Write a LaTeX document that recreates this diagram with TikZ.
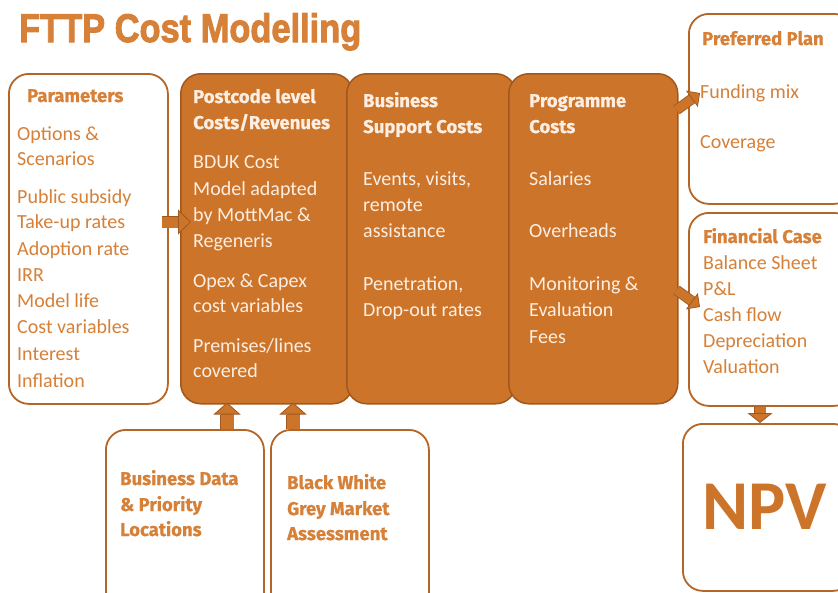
\documentclass[tikz,border=0pt]{standalone}
\usepackage{fontspec}
\setmainfont{Carlito}
\newfontfamily\hfont{Fira Sans}[BoldFeatures={FakeBold=0.6}]
\newfontfamily\tfont{Liberation Sans}[BoldFeatures={FakeBold=2.5}]
\usetikzlibrary{arrows.meta,calc}
\definecolor{org}{RGB}{204,116,41}
\definecolor{orgd}{RGB}{160,88,30}
\definecolor{txo}{RGB}{214,128,56}
\definecolor{cream}{RGB}{252,238,226}
\definecolor{bord}{RGB}{181,101,38}
\tikzset{
  wbox/.style={draw=bord, line width=1.8pt, fill=white, rounded corners=20pt, inner sep=0pt, anchor=north west},
  obox/.style={draw=orgd, line width=1.5pt, fill=org, rounded corners=20pt, inner sep=0pt, anchor=north west},
  body/.style={font=\fontsize{20}{24}\selectfont, anchor=base west, inner sep=0pt},
  bodyo/.style={body, text=txo},
  bodyc/.style={body, text=cream},
  head/.style={font=\hfont\bfseries\fontsize{18.5}{22}\selectfont, anchor=base west, inner sep=0pt},
  heado/.style={head, text=txo},
  headc/.style={head, text=cream},
  blkarrow/.style n args={4}{line width=#1, draw=org,
    -{Triangle[width=#2,length=#3,line width=0.8pt,fill=org,color=orgd]},
    preaction={draw=orgd, line width=#4, arrows=-, shorten >=#3}}
}
\begin{document}
\begin{tikzpicture}[x=1pt,y=-1pt]
\clip (0,0) rectangle (838,592);
\fill[white] (0,0) rectangle (838,592);
% title
\node[anchor=base west, inner sep=0pt, text=txo, font=\tfont\bfseries\fontsize{40}{44}\selectfont] (title) at (19,42) {\scalebox{0.86}[1]{FTTP Cost Modelling}};
% boxes
\node[wbox, minimum width=159pt, minimum height=330pt] (param) at (8,73) {};
\node[obox, minimum width=172pt, minimum height=330pt] (post) at (180,73) {};
\node[obox, minimum width=169pt, minimum height=330pt] (bsup) at (346,73) {};
\node[obox, minimum width=169pt, minimum height=330pt] (prog) at (508,73) {};
\node[wbox, minimum width=165pt, minimum height=190pt] (pref) at (688,13) {};
\node[wbox, minimum width=165pt, minimum height=193pt] (fin) at (688,212) {};
\node[wbox, minimum width=170pt, minimum height=167pt] (npv) at (682,423) {};
\node[wbox, minimum width=158pt, minimum height=185pt] (bdata) at (105,429) {};
\node[wbox, minimum width=158pt, minimum height=185pt] (bwg) at (270,429) {};
% texts
\node[heado] (paH) at (27,102) {Parameters};
\foreach \t/\yy [count=\i] in {{Options \&}/140, Scenarios/165, {Public subsidy}/203, {Take-up rates}/228, {Adoption rate}/255, IRR/281, {Model life}/307, {Cost variables}/333, Interest/360, Inflation/387}
  \node[bodyo] (pa\i) at (17,\yy) {\t};
\node[headc] (poH1) at (193,103) {Postcode level};
\node[headc] (poH2) at (193,129) {Costs/Revenues};
\foreach \t/\yy [count=\i] in {{BDUK Cost}/168, {Model adapted}/195, {by MottMac \&}/221, Regeneris/247, {Opex \& Capex}/287, {cost variables}/312, {Premises/lines}/352, covered/377}
  \node[bodyc] (po\i) at (193,\yy) {\t};
\node[headc] (bsH1) at (363,107) {Business};
\node[headc] (bsH2) at (363,133) {Support Costs};
\foreach \t/\yy [count=\i] in {{Events, visits,}/185, remote/211, assistance/237, {Penetration,}/290, {Drop-out rates}/316}
  \node[bodyc] (bs\i) at (363,\yy) {\t};
\node[headc] (prH1) at (529,107) {Programme};
\node[headc] (prH2) at (529,133) {Costs};
\foreach \t/\yy [count=\i] in {Salaries/185, Overheads/237, {Monitoring \&}/290, Evaluation/316, Fees/343}
  \node[bodyc] (pr\i) at (529,\yy) {\t};
\node[heado] (ppH) at (702,45) {Preferred Plan};
\node[bodyo] (pp1) at (700,98) {Funding mix};
\node[bodyo] (pp2) at (700,148) {Coverage};
\node[heado] (fcH) at (703,243) {Financial Case};
\foreach \t/\yy [count=\i] in {{Balance Sheet}/269, {P\&L}/295, {Cash flow}/321, Depreciation/347, Valuation/373}
  \node[bodyo] (fc\i) at (703,\yy) {\t};
\foreach \t/\yy [count=\i] in {{Business Data}/485, {\& Priority}/511, Locations/536}
  \node[heado] (bd\i) at (120,\yy) {\t};
\foreach \t/\yy [count=\i] in {{Black White}/489, {Grey Market}/515, Assessment/540}
  \node[heado] (bw\i) at (287,\yy) {\t};
\node[anchor=base west, inner sep=0pt, text=org, font=\bfseries\fontsize{70}{74}\selectfont] (npvt) at (702,529) {NPV};
% arrow end points
\coordinate (a1s) at ($(param.north east)+(-7,149)$);
\coordinate (a1e) at ($(post.north west)+(11,149)$);
\coordinate (a2s) at ($(bdata.north west)+(122,0)$);
\coordinate (a2e) at ($(post.south west)+(47,-2)$);
\coordinate (a3s) at ($(bwg.north west)+(23,0)$);
\coordinate (a3e) at ($(post.south west)+(113,-2)$);
\coordinate (a4s) at ($(fin.south west)+(72,0)$);
\coordinate (a4e) at ($(npv.north west)+(78,0)$);
\coordinate (a5s) at ($(prog.north east)+(-2,37)$);
\coordinate (a5e) at ($(pref.north west)+(12,80)$);
\coordinate (a6s) at ($(prog.north east)+(-2,217)$);
\coordinate (a6e) at ($(fin.north west)+(12,95)$);
% arrows
\draw[blkarrow={11pt}{25pt}{13pt}{12.6pt}] (a1s) -- (a1e);
\draw[blkarrow={13pt}{27pt}{12pt}{14.6pt}] (a2s) -- (a2e);
\draw[blkarrow={13pt}{27pt}{12pt}{14.6pt}] (a3s) -- (a3e);
\draw[blkarrow={11pt}{25pt}{10pt}{12.6pt}] (a4s) -- (a4e);
\draw[blkarrow={9pt}{20pt}{10pt}{10.6pt}] (a5s) -- (a5e);
\draw[blkarrow={9pt}{20pt}{10pt}{10.6pt}] (a6s) -- (a6e);
\end{tikzpicture}
\end{document}
